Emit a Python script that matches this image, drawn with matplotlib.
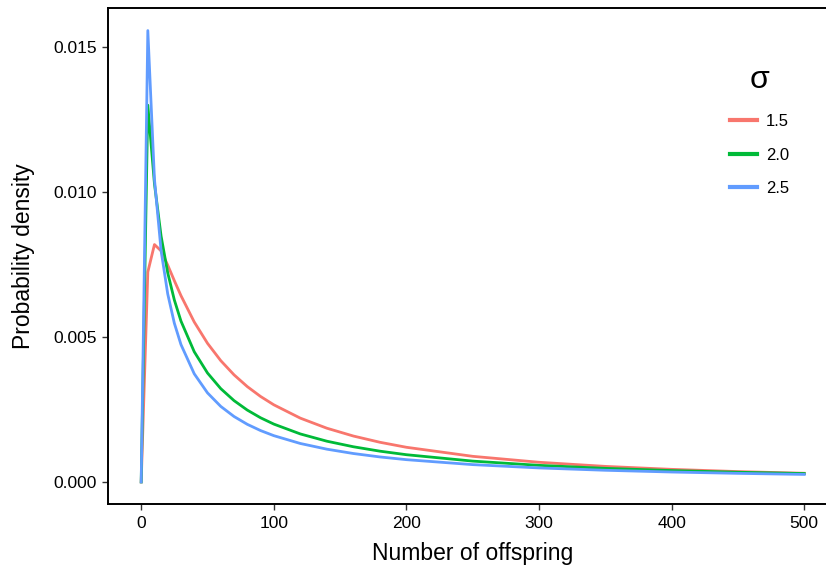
import matplotlib
matplotlib.use("Agg")
import matplotlib.pyplot as plt

plt.rcParams['font.family'] = ['Liberation Sans', 'DejaVu Sans']

# number of offspring (x) and probability density for each sigma
offspring = [0, 5, 10, 15, 20, 25, 30, 40, 50, 60, 70, 80, 90, 100,
             120, 140, 160, 180, 200, 250, 300, 350, 400, 450, 500]
dens_15 = [0.0, 0.007241, 0.008187, 0.007969, 0.007478, 0.006941, 0.006424,
           0.005517, 0.004781, 0.004183, 0.003694, 0.003288, 0.002948, 0.002660,
           0.002200, 0.001853, 0.001583, 0.001368, 0.001195, 0.000883, 0.000678,
           0.000536, 0.000434, 0.000357, 0.000299]
dens_20 = [0.0, 0.012994, 0.010281, 0.008480, 0.007215, 0.006275, 0.005547,
           0.004490, 0.003757, 0.003218, 0.002805, 0.002478, 0.002213, 0.001995,
           0.001655, 0.001405, 0.001213, 0.001061, 0.000939, 0.000718, 0.000572,
           0.000468, 0.000392, 0.000334, 0.000289]
dens_25 = [0.0, 0.015567, 0.010441, 0.007977, 0.006486, 0.005474, 0.004737,
           0.003730, 0.003071, 0.002605, 0.002257, 0.001987, 0.001772, 0.001596,
           0.001326, 0.001130, 0.000980, 0.000862, 0.000768, 0.000597, 0.000483,
           0.000402, 0.000342, 0.000296, 0.000259]
sigma_labels = ['1.5', '2.0', '2.5']
line_colors = ['#F8766D', '#00BA38', '#619CFF']

x_ticks = [0, 100, 200, 300, 400, 500]
y_ticks = [0.000, 0.005, 0.010, 0.015]

fig = plt.figure(figsize=(8.26, 5.65), dpi=100)
ax = fig.add_axes([0.1308, 0.1071, 0.8830, 0.8787])

for dens, lab, col in zip([dens_15, dens_20, dens_25], sigma_labels, line_colors):
    ax.plot(offspring, dens, color=col, lw=2.0, label=lab)

ax.set_xlim(-25, 525)
ax.set_ylim(-0.000778, 0.016345)
ax.set_xticks(x_ticks)
ax.set_yticks(y_ticks)
ax.set_yticklabels(['%.3f' % v for v in y_ticks])
ax.tick_params(direction='out', length=4, width=1, color='#333333',
               labelsize=12.5, labelcolor='black', pad=4)
for s in ax.spines.values():
    s.set_linewidth(1.4)
    s.set_color('black')

ax.set_xlabel('Number of offspring', fontsize=16.5, labelpad=8)
ax.set_ylabel('Probability density', fontsize=16.5, labelpad=13)

leg = ax.legend(title='σ', loc='upper left', bbox_to_anchor=(0.832, 0.915),
                frameon=False, fontsize=12, title_fontsize=23,
                handlelength=1.6, handletextpad=0.55, labelspacing=1.12)
for h in leg.get_lines():
    h.set_linewidth(3)

fig.savefig('out.png', dpi=100)
